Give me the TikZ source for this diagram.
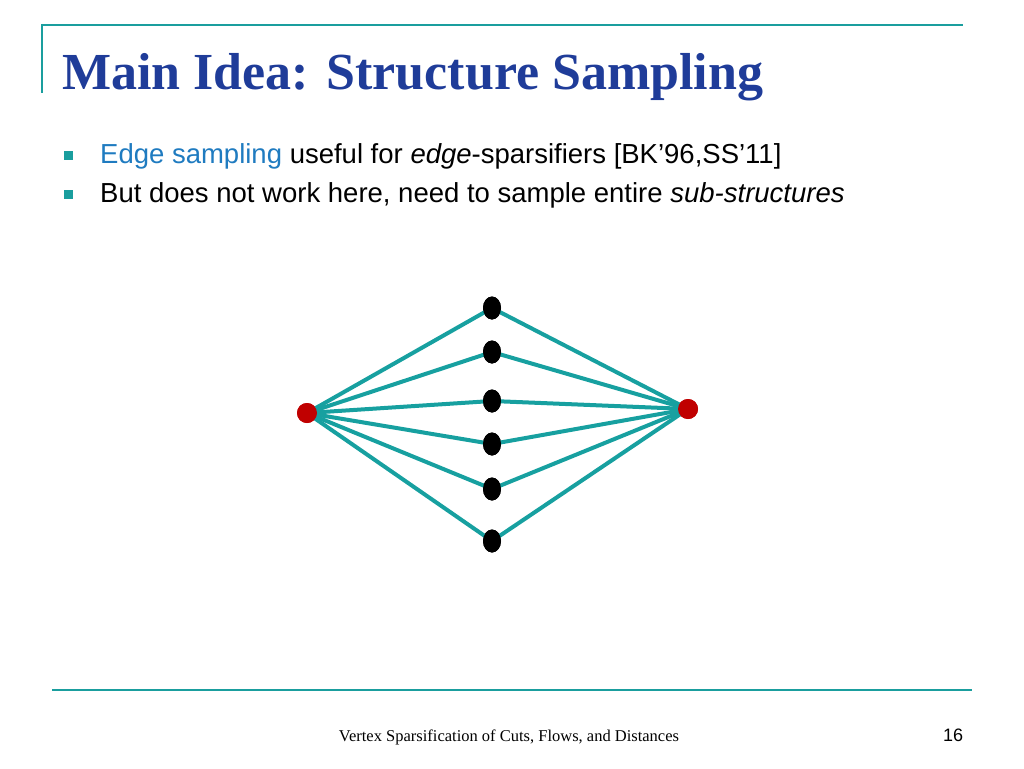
\documentclass[tikz,border=0pt]{standalone}
\usetikzlibrary{shapes.geometric}
\usepackage{fontspec}
\setsansfont{Liberation Sans}
\setmainfont{Liberation Serif}
\definecolor{teal1}{HTML}{1A9E9E}
\definecolor{edgec}{HTML}{17A0A0}
\definecolor{titleblue}{HTML}{1F3C99}
\definecolor{linkblue}{HTML}{1F7BC0}
\definecolor{dotred}{HTML}{C00000}
\begin{document}
\begin{tikzpicture}[x=1pt,y=-1pt,
  blk/.style={ellipse,fill=black,minimum width=18pt,minimum height=23pt,inner sep=0pt},
  endpt/.style={circle,fill=dotred,minimum size=20pt,inner sep=0pt},
  edg/.style={edgec,line width=4pt},
  txt/.style={anchor=base west,inner sep=0pt,font=\sffamily\fontsize{27.5}{32}\selectfont},
  bul/.style={fill=teal1,minimum size=9pt,inner sep=0pt}]
\useasboundingbox (0,0) rectangle (1024,768);
\draw[teal1,line width=2.5pt] (42,25) -- (963,25);
\draw[teal1,line width=2.5pt] (42,24) -- (42,93);
\draw[teal1,line width=2.5pt] (52,690) -- (972,690);
\node[anchor=base west,inner sep=0pt,text=titleblue,font=\bfseries\fontsize{52}{56}\selectfont] (title) at (62,89) {Main Idea: Structure Sampling};
\node[bul] (b1) at (68,155) {};
\node[bul] (b2) at (68,194) {};
\node[txt] (t1) at (100,163) {\textcolor{linkblue}{Edge sampling} useful for \textit{edge}-sparsifiers [BK’96,SS’11]};
\node[txt] (t2) at (100,202) {But does not work here, need to sample entire \textit{sub-structures}};
\node[endpt] (L) at (307,413) {};
\node[endpt] (R) at (688,409) {};
\foreach \i/\y in {1/308,2/352,3/401,4/444,5/489,6/541}{
  \node[blk] (m\i) at (492,\y) {};
  \draw[edg] (L.center) -- (m\i.center);
  \draw[edg] (R.center) -- (m\i.center);
}
\foreach \i in {1,...,6}{\node[blk] at (m\i) {};}
\node[endpt] at (L) {};\node[endpt] at (R) {};
\node[anchor=base,inner sep=0pt,font=\fontsize{16.5}{19}\selectfont] (foot) at (509,741) {Vertex Sparsification of Cuts, Flows, and Distances};
\node[anchor=base,inner sep=0pt,font=\sffamily\fontsize{18}{20}\selectfont] (pg) at (953,741) {16};
\end{tikzpicture}
\end{document}
